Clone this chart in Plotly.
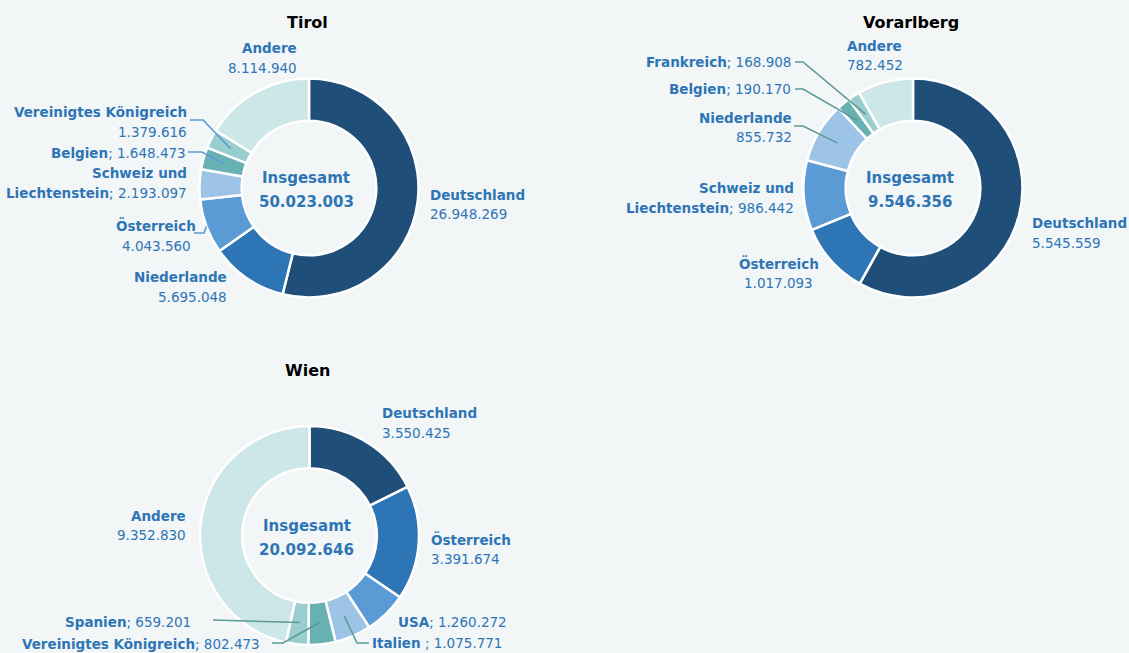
import math
import plotly.graph_objects as go

W, H = 1129, 653

# ---------------- data ----------------
tirol_names = ["Deutschland", "Niederlande", "Österreich", "Schweiz und Liechtenstein",
               "Belgien", "Vereinigtes Königreich", "Andere"]
tirol_values = [26948269, 5695048, 4043560, 2193097, 1648473, 1379616, 8114940]

vorarlberg_names = ["Deutschland", "Österreich", "Schweiz und Liechtenstein", "Niederlande",
                    "Belgien", "Frankreich", "Andere"]
vorarlberg_values = [5545559, 1017093, 986442, 855732, 190170, 168908, 782452]

wien_names = ["Deutschland", "Österreich", "USA", "Italien",
              "Vereinigtes Königreich", "Spanien", "Andere"]
wien_values = [3550425, 3391674, 1260272, 1075771, 802473, 659201, 9352830]

chart_titles = ["Tirol", "Vorarlberg", "Wien"]

# ---------------- styles ----------------
slice_colors = ["#1F4E79", "#2E75B6", "#5B9BD5", "#9DC3E6", "#67B1B3", "#9ACDCE", "#CDE6E7"]
TXT = "#2E75B6"
BG = "#F2F6F7"
FONT = "DejaVu Sans"
FS = 13.5


def fmt(v):
    return f"{v:,}".replace(",", ".")


def px(x):
    return x / W


def py(y):
    return 1 - y / H


fig = go.Figure()
annotations = []
shapes = []

R = 109.5
HOLE = 0.615


def add_text(x, y, text, anchor, size=FS, color=TXT):
    annotations.append(dict(x=px(x), y=py(y), xref="paper", yref="paper", text=text,
                            showarrow=False, xanchor=anchor, yanchor="middle",
                            font=dict(family=FONT, size=size, color=color)))


def mid_point(values, idx, cx, cy, frac):
    tot = sum(values)
    before = sum(values[:idx])
    f = (before + values[idx] / 2) / tot
    th = 2 * math.pi * f
    r = R * frac
    return cx + r * math.sin(th), cy - r * math.cos(th)


def draw_chart(title, names, values, cx, cy, title_y, labels, leaders, lcolor):
    fig.add_trace(go.Pie(
        labels=names, values=values, sort=False, direction="clockwise", rotation=0,
        hole=HOLE, textinfo="none", hoverinfo="label+value",
        marker=dict(colors=slice_colors, line=dict(color="white", width=2.5)),
        domain=dict(x=[px(cx - R), px(cx + R)], y=[py(cy + R), py(cy - R)]),
        showlegend=False))
    add_text(cx - 2, title_y, f"<b>{title}</b>", "center", size=16, color="#000000")
    add_text(cx - 3, cy - 10, "<b>Insgesamt</b>", "center", size=15)
    add_text(cx - 3, cy + 14, f"<b>{fmt(sum(values))}</b>", "center", size=15)
    for idx, spec in labels.items():
        name, val = names[idx], fmt(values[idx])
        kind = spec[0]
        if kind == "two":
            _, anchor, x, y1, y2 = spec
            add_text(x, y1, f"<b>{name}</b>", anchor)
            add_text(x, y2, val, anchor)
        elif kind == "one":
            _, anchor, x, y, sep = spec
            add_text(x, y, f"<b>{name}</b>{sep}{val}", anchor)
        elif kind == "split":
            _, anchor, x, y1, y2 = spec
            first, last = name.rsplit(" ", 1)
            add_text(x, y1, f"<b>{first}</b>", anchor)
            add_text(x, y2, f"<b>{last}</b>; {val}", anchor)
    for idx, (sx, kx, ly, frac) in leaders.items():
        ex, ey = mid_point(values, idx, cx, cy, frac)
        path = f"M {px(sx)},{py(ly)} L {px(kx)},{py(ly)} L {px(ex)},{py(ey)}"
        shapes.append(dict(type="path", path=path, xref="paper", yref="paper",
                           line=dict(color=lcolor, width=1.6)))


# Tirol
draw_chart(chart_titles[0], tirol_names, tirol_values, 309, 188, 23,
           labels={0: ("two", "left", 428, 195, 214),
                   1: ("two", "right", 229, 277, 297),
                   2: ("two", "center", 156, 225, 246),
                   3: ("split", "right", 189, 173, 193),
                   4: ("one", "right", 188, 153, "; "),
                   5: ("two", "right", 189, 112, 132),
                   6: ("two", "right", 299, 48, 68)},
           leaders={5: (190, 203, 120, 0.80),
                    4: (188, 202, 152, 0.80),
                    2: (194, 204, 233, 1.0)},
           lcolor="#5B9BD5")

# Vorarlberg
draw_chart(chart_titles[1], vorarlberg_names, vorarlberg_values, 913, 188, 23,
           labels={0: ("two", "left", 1030, 223, 243),
                   1: ("two", "center", 779, 263, 283),
                   2: ("split", "right", 796, 188, 208),
                   3: ("two", "right", 794, 118, 137),
                   4: ("one", "right", 793, 89, "; "),
                   5: ("one", "right", 793, 62, "; "),
                   6: ("two", "left", 845, 46, 65)},
           leaders={5: (795, 803, 62, 0.80),
                    4: (795, 803, 89, 0.80),
                    3: (794, 803, 126, 0.80)},
           lcolor="#5E9A95")

# Wien
draw_chart(chart_titles[2], wien_names, wien_values, 309.5, 535.5, 371,
           labels={0: ("two", "left", 380, 413, 433),
                   1: ("two", "left", 429, 539, 559),
                   2: ("one", "left", 396, 622, "; "),
                   3: ("one", "left", 370, 643, " ; "),
                   4: ("one", "right", 262, 644, "; "),
                   5: ("one", "right", 193, 622, "; "),
                   6: ("two", "right", 188, 516, 535)},
           leaders={5: (213, 213, 620, 0.80),
                    4: (272, 283, 643, 0.80),
                    3: (369, 357, 643, 0.80)},
           lcolor="#5E9A95")

fig.update_layout(width=W, height=H, margin=dict(l=0, r=0, t=0, b=0),
                  paper_bgcolor=BG, plot_bgcolor=BG,
                  annotations=annotations, shapes=shapes,
                  font=dict(family=FONT, color=TXT))

fig.write_html("out.html", config={"displayModeBar": False},
               post_script="document.body.style.margin='0px';"
                           "document.body.style.background='" + BG + "';")
